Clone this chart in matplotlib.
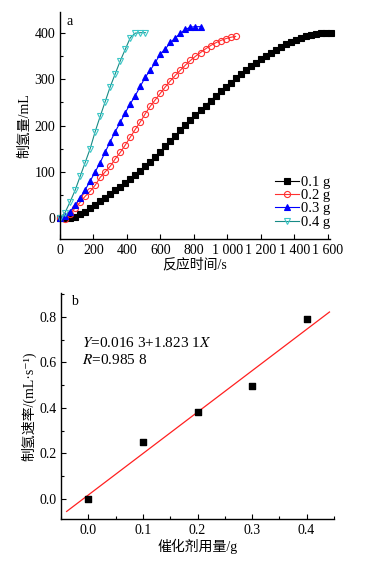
import matplotlib
matplotlib.use('Agg')
import matplotlib.pyplot as plt
from matplotlib.ticker import MultipleLocator
import numpy as np

plt.rcParams['font.family'] = ['Liberation Serif', 'Noto Sans CJK SC', 'DejaVu Sans']
plt.rcParams['mathtext.fontset'] = 'stix'

# (a) hydrogen volume vs reaction time, one series per catalyst amount
t_01 = list(range(0, 1621, 30))
v_01 = [0, 0, 0, 3, 8, 14, 21, 28, 36, 44, 52, 60, 68, 76, 84, 93, 102, 112, 122, 132,
        143, 155, 166, 178, 190, 201, 212, 223, 233, 243, 254, 264, 274, 284, 293, 302,
        311, 320, 328, 336, 344, 351, 358, 364, 370, 376, 381, 386, 390, 394, 397, 399,
        400, 401, 401]
t_02 = list(range(0, 1051, 30))
v_02 = [0, -2, 8, 22, 34, 47, 58, 71, 88, 100, 112, 128, 142, 158, 175, 192, 208, 226,
        242, 256, 270, 284, 297, 309, 320, 331, 341, 350, 358, 366, 373, 379, 384, 388,
        391, 393]
t_03 = list(range(0, 841, 30))
v_03 = [0, 5, 14, 28, 44, 61, 80, 100, 120, 143, 165, 187, 207, 228, 247, 265, 285, 305,
        320, 337, 355, 366, 380, 390, 400, 408, 413, 414, 414]
t_04 = list(range(0, 511, 30))
v_04 = [0, 12, 35, 60, 90, 120, 150, 187, 220, 252, 284, 312, 340, 365, 390, 400, 401, 401]

labels_a = ['0.1 g', '0.2 g', '0.3 g', '0.4 g']

# (b) hydrogen production rate vs catalyst amount, with linear fit
dose = [0.0, 0.1, 0.2, 0.3, 0.4]
rate = [0.0, 0.25, 0.38, 0.495, 0.79]
fit_a = 0.0163
fit_b = 1.8231

fig = plt.figure(figsize=(3.73, 5.66), dpi=100)
ax1 = fig.add_axes([0.161, 0.578, 0.724, 0.401])
ax2 = fig.add_axes([0.164, 0.083, 0.731, 0.399])

# line colour, marker, marker face, marker edge
series = [
    (t_01, v_01, 'black', 's', 'black', 'black'),
    (t_02, v_02, '#ff3030', 'o', 'none', '#ff3030'),
    (t_03, v_03, '#0000ff', '^', '#0000ff', '#0000ff'),
    (t_04, v_04, '#178a85', 'v', 'none', '#3cc8c8'),
]
for (t, v, c, m, fc, ec), lab in zip(series, labels_a):
    ax1.plot(t, v, color=c, marker=m, markerfacecolor=fc, markeredgecolor=ec,
             markersize=4.4, linewidth=0.8, markeredgewidth=0.8, label=lab, clip_on=False)

ax1.set_xlim(0, 1615)
ax1.set_ylim(-45, 446)
ax1.yaxis.set_major_locator(MultipleLocator(100))
ax1.yaxis.set_minor_locator(MultipleLocator(50))
ax1.set_xticks(range(0, 1601, 200))
ax1.set_xticklabels(['0', '200', '400', '600', '800', '1 000', '1 200', '1 400', '1 600'])
ax1.set_xlabel('反应时间/s', fontsize=10, labelpad=1)
ax1.set_ylabel('制氢量/mL', fontsize=10, labelpad=2)
ax1.text(0.025, 0.985, 'a', transform=ax1.transAxes, fontsize=10, va='top')
ax1.legend(loc='lower right', bbox_to_anchor=(1.04, 0.0), frameon=False, fontsize=10.5,
           handlelength=1.6, handletextpad=0.2, labelspacing=0.0, borderaxespad=0.3)

ax2.scatter(dose, rate, marker='s', color='black', s=14, zorder=3)
xf = np.array([-0.04, 0.442])
ax2.plot(xf, fit_a + fit_b * xf, color='#ff2020', linewidth=0.9)
ax2.set_xlim(-0.05, 0.45)
ax2.set_ylim(-0.09, 0.905)
ax2.xaxis.set_major_locator(MultipleLocator(0.1))
ax2.xaxis.set_minor_locator(MultipleLocator(0.05))
ax2.yaxis.set_major_locator(MultipleLocator(0.2))
ax2.yaxis.set_minor_locator(MultipleLocator(0.1))
ax2.xaxis.set_major_formatter(plt.FormatStrFormatter('%.1f'))
ax2.yaxis.set_major_formatter(plt.FormatStrFormatter('%.1f'))
ax2.set_xlabel('催化剂用量/g', fontsize=10, labelpad=1)
ax2.set_ylabel('制氢速率/(mL·s⁻¹)', fontsize=10, labelpad=2)
ax2.text(0.035, 0.99, 'b', transform=ax2.transAxes, fontsize=10, va='top')
ax2.text(-0.012, 0.685, '$Y$=0.016 3+1.823 1$X$', fontsize=11, va='center')
ax2.text(-0.012, 0.61, '$R$=0.985 8', fontsize=11, va='center')

for ax in (ax1, ax2):
    ax.spines['top'].set_visible(False)
    ax.spines['right'].set_visible(False)
    ax.tick_params(which='both', direction='in', labelsize=10, width=0.8)
    ax.tick_params(which='major', length=3.5)
    ax.tick_params(which='minor', length=2)
    for s in ('left', 'bottom'):
        ax.spines[s].set_linewidth(1.0)

fig.savefig('out.png', dpi=100)
